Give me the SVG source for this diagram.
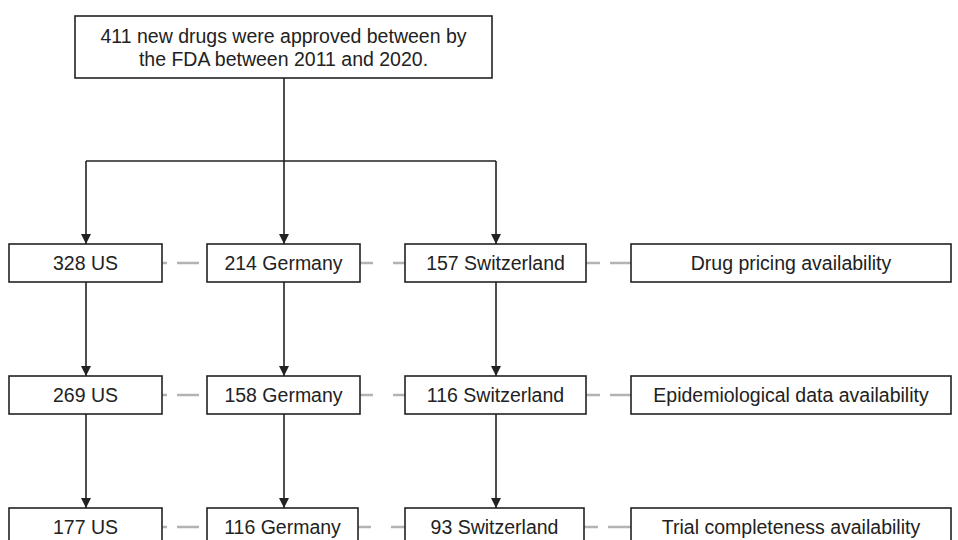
<svg xmlns="http://www.w3.org/2000/svg" width="958" height="540" viewBox="0 0 958 540">
<defs>
<style>
.box{fill:#fff;stroke:#222;stroke-width:1.6}
.t{font-family:"Liberation Sans",Arial,sans-serif;font-size:19.5px;fill:#222;text-anchor:middle}
.c{fill:none;stroke:#222;stroke-width:1.6}
.d{fill:none;stroke:#b3b3b3;stroke-width:2.6}
</style>
<marker id="ah" viewBox="0 0 10 10" refX="10" refY="5" markerWidth="10" markerHeight="10" markerUnits="userSpaceOnUse" orient="auto">
<path d="M0,0 L10,5 L0,10 z" fill="#222"/>
</marker>
</defs>
<rect width="958" height="540" fill="#fff"/>
<g id="connectors">
<path class="c" d="M284,78 V161 M86,161 H496"/>
<path class="c" d="M86,161 V244" marker-end="url(#ah)"/>
<path class="c" d="M284,161 V244" marker-end="url(#ah)"/>
<path class="c" d="M496,161 V244" marker-end="url(#ah)"/>
<path class="c" d="M86,282 V376" marker-end="url(#ah)"/>
<path class="c" d="M284,282 V376" marker-end="url(#ah)"/>
<path class="c" d="M496,282 V376" marker-end="url(#ah)"/>
<path class="c" d="M86,414 V508" marker-end="url(#ah)"/>
<path class="c" d="M284,414 V508" marker-end="url(#ah)"/>
<path class="c" d="M496,414 V508" marker-end="url(#ah)"/>
<g class="dash">
<path class="d" d="M162,263 h5 M177,263 h22 M360,263 h13 M393,263 h12 M586,263 h14 M610,263 h21"/>
<path class="d" d="M162,395 h5 M177,395 h22 M360,395 h13 M393,395 h12 M586,395 h14 M610,395 h21"/>
<path class="d" d="M162,527 h5 M177,527 h22 M358,527 h13 M391,527 h14 M584,527 h14 M608,527 h23"/>
</g>
</g>
<g id="top"><rect class="box" x="75" y="16" width="417" height="62"/>
<text class="t" x="283.5" y="43">411 new drugs were approved between by</text>
<text class="t" x="283.5" y="66">the FDA between 2011 and 2020.</text></g>
<g id="us1"><rect class="box" x="9" y="244" width="153" height="38"/><text class="t" x="85.5" y="270">328 US</text></g>
<g id="de1"><rect class="box" x="207" y="244" width="153" height="38"/><text class="t" x="283.5" y="270">214 Germany</text></g>
<g id="ch1"><rect class="box" x="405" y="244" width="181" height="38"/><text class="t" x="495.5" y="270">157 Switzerland</text></g>
<g id="l1"><rect class="box" x="631" y="244" width="320" height="38"/><text class="t" x="791" y="270">Drug pricing availability</text></g>
<g id="us2"><rect class="box" x="9" y="376" width="153" height="38"/><text class="t" x="85.5" y="402">269 US</text></g>
<g id="de2"><rect class="box" x="207" y="376" width="153" height="38"/><text class="t" x="283.5" y="402">158 Germany</text></g>
<g id="ch2"><rect class="box" x="405" y="376" width="181" height="38"/><text class="t" x="495.5" y="402">116 Switzerland</text></g>
<g id="l2"><rect class="box" x="631" y="376" width="320" height="38"/><text class="t" x="791" y="402">Epidemiological data availability</text></g>
<g id="us3"><rect class="box" x="9" y="508" width="153" height="38"/><text class="t" x="85.5" y="534">177 US</text></g>
<g id="de3"><rect class="box" x="207" y="508" width="151" height="38"/><text class="t" x="282.5" y="534">116 Germany</text></g>
<g id="ch3"><rect class="box" x="405" y="508" width="179" height="38"/><text class="t" x="494.5" y="534">93 Switzerland</text></g>
<g id="l3"><rect class="box" x="631" y="508" width="320" height="38"/><text class="t" x="791" y="534">Trial completeness availability</text></g>
</svg>
